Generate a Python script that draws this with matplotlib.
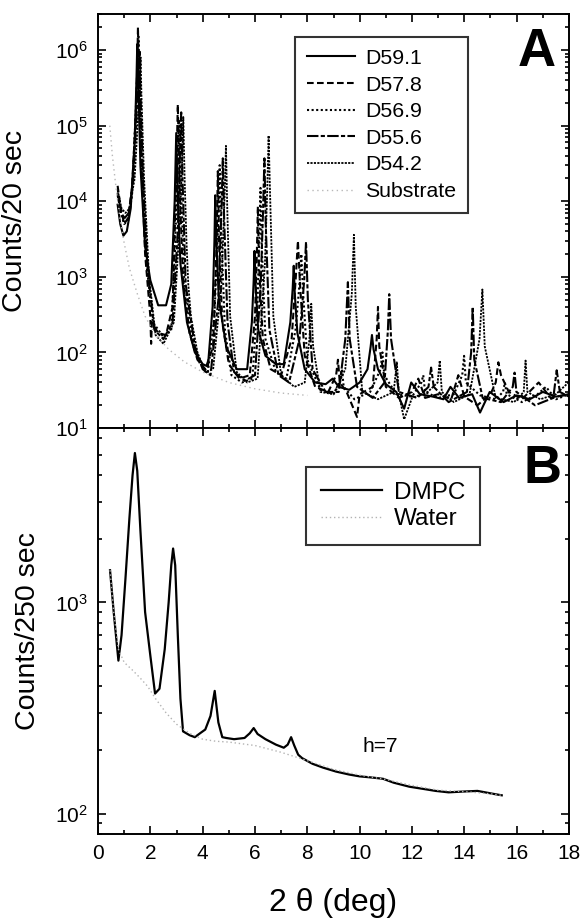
import numpy as np
import matplotlib
matplotlib.use('Agg')
from matplotlib import pyplot as plt
from matplotlib.ticker import LogLocator, NullFormatter, MultipleLocator

plt.rcParams['font.family'] = ['Liberation Sans', 'DejaVu Sans']
plt.rcParams['mathtext.fontset'] = 'custom'
plt.rcParams['mathtext.rm'] = 'Liberation Sans'
plt.rcParams['mathtext.it'] = 'Liberation Sans:italic'

# ---- panel A : counts / 20 sec vs 2theta (deg) ----
labels_a = ['D59.1', 'D57.8', 'D56.9', 'D55.6', 'D54.2', 'Substrate']

x_d591 = [0.75, 0.85, 0.97, 1.1, 1.25, 1.40, 1.47, 1.50, 1.54, 1.62, 1.8, 2.0, 2.3, 2.6, 2.8, 2.93, 2.99, 3.05,
          3.15, 3.4, 3.7, 4.0, 4.2, 4.38, 4.45, 4.48, 4.52, 4.62, 4.9, 5.3, 5.7, 5.88, 5.95, 5.98, 6.02, 6.12,
          6.4, 6.8, 7.1, 7.35, 7.44, 7.48, 7.52, 7.62, 7.9, 8.3, 8.7, 8.97, 9.2, 9.6, 10.0, 10.3, 10.42, 10.47,
          10.53, 10.7, 11.0, 11.4, 11.7, 11.97, 12.3, 12.8, 13.2, 13.47, 13.8, 14.3, 14.6, 14.97, 15.5, 16.0,
          16.5, 17.0, 17.5, 18.0]
y_d591 = [9000, 5000, 3500, 4000, 8000, 6e4, 4e5, 1.2e6, 4e5, 3e4, 2500, 900, 420, 420, 800, 1e4, 8e4, 1e4,
          1500, 250, 100, 70, 65, 400, 3000, 1.2e4, 3000, 500, 120, 60, 60, 250, 900, 2200, 800, 200,
          90, 70, 70, 250, 700, 1400, 600, 180, 60, 40, 38, 45, 35, 32, 40, 60, 120, 170,
          110, 60, 38, 30, 18, 40, 28, 26, 24, 35, 25, 28, 16, 30, 22, 27,
          24, 30, 26, 28]

x_d578 = [0.75, 0.85, 1.0, 1.15, 1.3, 1.45, 1.50, 1.527, 1.56, 1.65, 1.8, 2.0, 2.03, 2.06, 2.3, 2.6, 2.85,
          2.98, 3.05, 3.12, 3.25, 3.5, 3.8, 4.1, 4.4, 4.53, 4.58, 4.63, 4.75, 5.0, 5.4, 5.8, 6.0, 6.07, 6.11,
          6.15, 6.3, 6.6, 7.0, 7.4, 7.56, 7.64, 7.72, 7.9, 8.3, 8.8, 9.1, 9.17, 9.24, 9.5, 9.9, 10.0, 10.5,
          10.65, 10.70, 10.75, 11.0, 11.5, 12.0, 12.24, 12.5, 13.0, 13.5, 13.77, 14.0, 14.5, 15.0, 15.2, 15.30,
          15.4, 15.7, 16.2, 16.84, 17.3, 18.0]
y_d578 = [1.6e4, 9000, 5000, 6000, 1.5e4, 1.5e5, 6e5, 2e6, 5e5, 4e4, 2000, 300, 130, 250, 180, 170, 400,
          1.5e4, 1.9e5, 1.5e4, 900, 180, 80, 60, 120, 2500, 2.5e4, 2500, 250, 70, 45, 50, 300, 2000, 8500,
          1500, 150, 60, 50, 150, 1000, 3000, 800, 90, 35, 30, 50, 80, 40, 30, 14, 28, 35,
          150, 400, 120, 35, 25, 30, 45, 25, 28, 24, 50, 26, 20, 28, 40, 74,
          50, 30, 24, 40, 25, 28]

x_d569 = [0.75, 0.87, 1.0, 1.15, 1.3, 1.48, 1.52, 1.551, 1.58, 1.68, 1.85, 2.1, 2.5, 2.8, 2.95, 3.04, 3.10,
          3.16, 3.3, 3.6, 3.9, 4.2, 4.45, 4.6, 4.65, 4.70, 4.85, 5.1, 5.5, 5.9, 6.1, 6.17, 6.21, 6.25, 6.4,
          6.8, 7.2, 7.55, 7.70, 7.77, 7.84, 8.0, 8.5, 9.0, 9.25, 9.32, 9.39, 9.8, 10.4, 10.8, 10.87, 10.94,
          11.4, 12.0, 12.36, 12.43, 12.5, 13.0, 13.6, 13.92, 13.99, 14.06, 14.6, 15.2, 15.48, 15.55, 15.62,
          16.2, 16.8, 17.12, 17.5, 18.0]
y_d569 = [1.3e4, 7000, 5000, 5500, 1.2e4, 3e5, 8e5, 1.5e6, 4e5, 3e4, 1500, 250, 160, 200, 2500, 3e4, 1.2e5,
          2e4, 900, 150, 70, 55, 300, 6000, 3e4, 5000, 200, 50, 40, 45, 500, 4000, 1.5e4, 3000, 150,
          55, 45, 200, 800, 2000, 600, 80, 32, 28, 40, 60, 35, 24, 30, 60, 100, 50,
          28, 26, 40, 50, 30, 25, 28, 50, 90, 40, 27, 24, 30, 40, 28,
          22, 28, 35, 24, 28]

x_d556 = [0.75, 0.88, 1.02, 1.18, 1.35, 1.52, 1.56, 1.588, 1.62, 1.72, 1.9, 2.15, 2.5, 2.85, 3.05, 3.13, 3.18,
          3.23, 3.35, 3.7, 4.0, 4.3, 4.6, 4.72, 4.77, 4.82, 4.95, 5.2, 5.6, 6.0, 6.22, 6.31, 6.36, 6.41, 6.55,
          6.9, 7.3, 7.7, 7.88, 7.95, 8.02, 8.2, 8.7, 9.2, 9.45, 9.55, 9.62, 9.9, 10.5, 10.95, 11.08, 11.13,
          11.2, 11.5, 12.2, 12.63, 12.73, 12.83, 13.4, 14.1, 14.26, 14.32, 14.38, 14.7, 15.4, 15.85, 15.92,
          15.99, 16.7, 17.4, 17.53, 17.65, 18.0]
y_d556 = [1.2e4, 7000, 6000, 7000, 2e4, 3e5, 6e5, 1e6, 3e5, 2e4, 1200, 200, 150, 250, 4000, 4e4, 1.5e5,
          2e4, 800, 120, 60, 50, 500, 8000, 3.7e4, 6000, 250, 55, 42, 50, 800, 8000, 3.7e4, 5000, 200,
          50, 40, 150, 900, 2900, 500, 60, 30, 30, 150, 850, 150, 35, 25, 40, 200, 590,
          150, 30, 25, 35, 63, 35, 22, 30, 100, 400, 80, 25, 22, 35, 54,
          30, 20, 25, 58, 30, 26]

x_d542 = [0.75, 0.9, 1.05, 1.2, 1.4, 1.56, 1.60, 1.628, 1.66, 1.76, 1.95, 2.2, 2.5, 2.9, 3.12, 3.21, 3.26,
          3.31, 3.38, 3.45, 3.55, 3.8, 4.1, 4.4, 4.72, 4.84, 4.89, 4.94, 5.05, 5.3, 5.7, 6.1, 6.38, 6.47,
          6.52, 6.57, 6.7, 7.0, 7.5, 7.9, 8.08, 8.15, 8.22, 8.5, 9.0, 9.45, 9.7, 9.78, 9.85, 10.1, 10.7,
          11.3, 11.42, 11.5, 11.7, 12.0, 12.6, 12.98, 13.06, 13.14, 13.6, 14.2, 14.58, 14.69, 14.78, 15.2,
          15.9, 16.27, 16.34, 16.41, 16.9, 17.5, 17.98]
y_d542 = [1.4e4, 8000, 7000, 8000, 2e4, 2e5, 4e5, 8e5, 2.5e5, 2e4, 1000, 170, 130, 250, 5000, 3e4, 1.3e5,
          2e4, 3000, 800, 300, 100, 55, 60, 800, 1.2e4, 5.4e4, 8000, 300, 55, 40, 45, 1500, 1.5e4,
          7.4e4, 1.5e4, 300, 50, 35, 40, 150, 440, 120, 30, 28, 60, 600, 3600, 400, 30, 24,
          30, 74, 28, 13, 25, 30, 40, 78, 30, 22, 28, 150, 680, 120, 25,
          22, 30, 78, 30, 24, 28, 40]

x_sub = [0.45, 0.55, 0.7, 0.85, 1.0, 1.2, 1.5, 1.8, 2.2, 2.7, 3.3, 4.0, 5.0, 6.0, 7.0, 8.0]
y_sub = [1e5, 4e4, 1.4e4, 5500, 2800, 1300, 600, 300, 170, 110, 75, 55, 40, 33, 29, 27]

# ---- panel B : counts / 250 sec ----
labels_b = ['DMPC', 'Water']
x_dmpc = [0.46, 0.6, 0.78, 0.9, 1.05, 1.2, 1.32, 1.41, 1.5, 1.62, 1.8, 2.0, 2.18, 2.35, 2.55, 2.7, 2.8, 2.87,
          2.95, 3.05, 3.15, 3.25, 3.5, 3.7, 3.9, 4.1, 4.3, 4.46, 4.6, 4.75, 4.9, 5.2, 5.6, 5.8, 5.95, 6.1,
          6.4, 6.8, 7.1, 7.25, 7.38, 7.5, 7.65, 7.8, 8.2, 8.6, 9.1, 9.6, 10.0, 10.5, 10.9, 11.3, 11.9, 12.4,
          12.9, 13.4, 13.9, 14.5, 14.8, 15.1, 15.43]
y_dmpc = [1420, 900, 530, 700, 1300, 2500, 4000, 5100, 4200, 2200, 900, 560, 370, 390, 600, 1000, 1500, 1800,
          1500, 700, 350, 245, 235, 230, 240, 250, 290, 381, 270, 230, 228, 225, 228, 240, 254, 238,
          225, 212, 205, 212, 230, 210, 190, 183, 172, 165, 158, 153, 150, 148, 146, 140, 134, 131,
          128, 126, 127, 128, 126, 124, 122]
x_water = [0.46, 0.6, 0.78, 1.0, 1.3, 1.6, 1.9, 2.2, 2.6, 3.0, 3.5, 4.0, 4.5, 5.0, 6.0, 7.0, 8.0, 9.0, 10.0,
           11.0, 12.0, 13.0, 14.0, 15.0, 15.43]
y_water = [1420, 900, 600, 520, 480, 440, 400, 350, 300, 265, 240, 225, 220, 218, 210, 195, 178, 162, 152,
           145, 136, 129, 127, 124, 122]

W, H = 584, 923
fig = plt.figure(figsize=(W / 100, H / 100), dpi=100)
left, width = 98 / W, 471 / W
ax_a = fig.add_axes([left, 1 - 428 / H, width, (428 - 14) / H])
ax_b = fig.add_axes([left, 1 - 834 / H, width, (834 - 428) / H])

styles = [dict(color='k', lw=1.5, ls='-'),
          dict(color='k', lw=1.5, ls=(0, (3.2, 1.6))),
          dict(color='k', lw=1.5, ls=(0, (1, 1.2))),
          dict(color='k', lw=1.5, ls=(0, (5.5, 1.1, 2, 1.1))),
          dict(color='k', lw=1.3, ls=(0, (1.2, 0.7))),
          dict(color='0.72', lw=1.0, ls=(0, (1, 2.5)))]
series_a = [(x_d591, y_d591), (x_d578, y_d578), (x_d569, y_d569),
            (x_d556, y_d556), (x_d542, y_d542), (x_sub, y_sub)]
for (xs, ys), lab, st in zip(series_a, labels_a, styles):
    ax_a.plot(xs, ys, label=lab, **st)

ax_b.plot(x_dmpc, y_dmpc, color='k', lw=1.6, label=labels_b[0])
ax_b.plot(x_water, y_water, color='0.7', lw=1.0, ls=(0, (1, 2)), label=labels_b[1])

for ax in (ax_a, ax_b):
    ax.set_yscale('log')
    ax.set_xlim(0, 18)
    ax.xaxis.set_major_locator(MultipleLocator(2))
    ax.xaxis.set_minor_locator(MultipleLocator(1))
    ax.yaxis.set_major_locator(LogLocator(base=10, numticks=12))
    ax.yaxis.set_minor_locator(LogLocator(base=10, subs=np.arange(2, 10), numticks=12))
    ax.yaxis.set_minor_formatter(NullFormatter())
    ax.tick_params(which='both', direction='in', top=True, right=True, width=1.2, labelsize=15)
    ax.tick_params(which='major', length=6, pad=7)
    ax.tick_params(which='minor', length=3)
    for s in ax.spines.values():
        s.set_linewidth(1.4)

ax_a.set_ylim(10, 3e6)
ax_a.tick_params(labelbottom=False)
ax_b.set_ylim(80, 6700)

ax_a.set_ylabel('Counts/20 sec', fontsize=20.5)
ax_a.yaxis.set_label_coords(-0.149, 0.5)
ax_b.set_ylabel('Counts/250 sec', fontsize=20.5)
ax_b.yaxis.set_label_coords(-0.122, 0.5)
ax_b.set_xlabel('2 \u03b8 (deg)', fontsize=23, labelpad=18)

leg_a = ax_a.legend(loc='upper left', bbox_to_anchor=(0.418, 0.944), fontsize=15.3, frameon=True,
                    fancybox=False, edgecolor='k', handlelength=2.3, handletextpad=0.45,
                    labelspacing=0.36, borderpad=0.55, borderaxespad=0)
leg_a.get_frame().set_linewidth(1.5)
leg_b = ax_b.legend(loc='upper left', bbox_to_anchor=(0.442, 0.904), fontsize=17.5, frameon=True,
                    fancybox=False, edgecolor='k', handlelength=2.5, handletextpad=0.5,
                    labelspacing=0.2, borderpad=0.6, borderaxespad=0)
leg_b.get_frame().set_linewidth(1.5)

ax_a.text(0.932, 0.908, 'A', transform=ax_a.transAxes, fontsize=38, fontweight='bold',
          ha='center', va='center')
ax_b.text(0.943, 0.899, 'B', transform=ax_b.transAxes, fontsize=38, fontweight='bold',
          ha='center', va='center')
ax_b.text(10.78, 208, 'h=7', fontsize=15, ha='center', va='center')

fig.savefig('out.png', dpi=100)
